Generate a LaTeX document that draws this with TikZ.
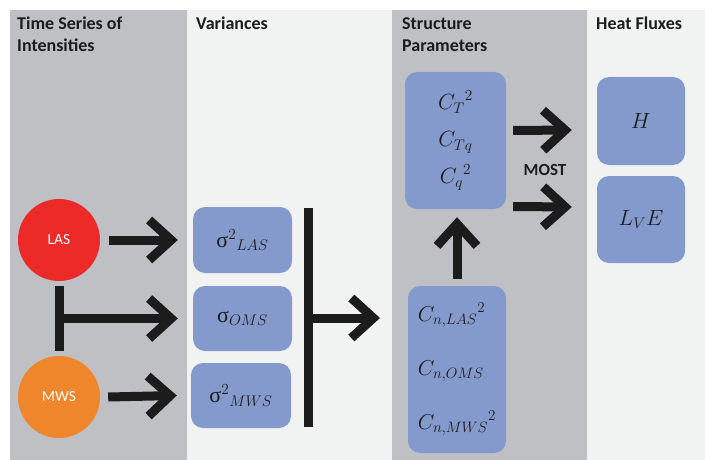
\RequirePackage{fix-cm}
\documentclass[tikz,border=0pt]{standalone}
\usepackage{fontspec}
\setmainfont{Carlito}
\newfontfamily\greekfont{Liberation Serif}
\usetikzlibrary{arrows.meta}
\definecolor{panelgray}{HTML}{BFC0C4}
\definecolor{panellight}{HTML}{F1F2F2}
\definecolor{boxblue}{HTML}{8499CC}
\definecolor{lasred}{HTML}{EC2A28}
\definecolor{mwsorange}{HTML}{F0862B}
\definecolor{inkdark}{HTML}{1C1C1C}
\newcommand\sig{\mbox{\greekfont σ}}

\begin{document}
\begin{tikzpicture}[x=1pt,y=-1pt]
\tikzset{head/.style = {anchor=base west, inner sep=0pt, align=left, text=inkdark,
           font=\bfseries\fontsize{18}{22}\selectfont},
         src/.style = {circle, minimum size=82pt, inner sep=0pt, text=white,
           font=\fontsize{15.5}{18}\selectfont},
         qbox/.style = {fill=boxblue, rounded corners=12pt, inner sep=0pt, text=inkdark,
           font=\fontsize{22}{26}\selectfont},
         arr/.style = {line width=9pt, inkdark, -{Straight Barb[length=22pt, width=40pt]}},
         bar/.style = {line width=9pt, inkdark}}
\useasboundingbox (0,0) rectangle (705,460);
% columns
\fill[panelgray] (10,10) rectangle (187,460);
\fill[panellight] (187,10) rectangle (392,460);
\fill[panelgray] (392,10) rectangle (587,460);
\fill[panellight] (587,10) rectangle (705,460);
\node[head] (thead1) at (17,30) {Time Series of};
\node[head] (thead1b) at (17,52) {Intensities};
\node[head] (thead2) at (196,30) {Variances};
\node[head] (thead3) at (402,30) {Structure};
\node[head] (thead3b) at (402,52) {Parameters};
\node[head] (thead4) at (596,30) {Heat Fluxes};

% sources
\node[src, fill=lasred] (las) at (59,240) {LAS};
\node[src, fill=mwsorange] (mws) at (59,397) {MWS};

% variances
\node[qbox, minimum width=99pt, minimum height=66pt] (vlas) at (242.5,240) {${\sig^2}_{LAS}$};
\node[qbox, minimum width=99pt, minimum height=65pt] (voms) at (242.5,318.5) {$\sig_{OMS}$};
\node[qbox, minimum width=100pt, minimum height=65pt] (vmws) at (241,395.5) {${\sig^2}_{MWS}$};

% structure parameters
\node[qbox, minimum width=101pt, minimum height=137pt, align=center,
  font=\fontsize{22}{37}\selectfont] (ctq) at (455.5,140.5)
  {${C_T}^2$\\$C_{Tq}$\\${C_q}^2$};
\node[qbox, minimum width=98pt, minimum height=167pt, align=left,
  font=\fontsize{21.5}{54}\selectfont] (cn) at (457,369.5)
  {${C_{n,LAS}}^2$\\$C_{n,OMS}$\\${C_{n,MWS}}^2$};

% heat fluxes
\node[qbox, minimum width=88pt, minimum height=88pt] (h) at (641,121) {$H$};
\node[qbox, minimum width=88pt, minimum height=87pt] (lve) at (641,219.5) {$L_V E$};

% connectors
\draw[arr] ([xshift=9pt]las.east) -- ([xshift=-15pt]vlas.west);
\draw[bar] ([yshift=-5pt]las.south) -- coordinate (tee) ([yshift=5pt]mws.north);
\draw[arr] ([xshift=-4.5pt]tee) -- ([xshift=-15pt]tee -| voms.west);
\draw[arr] ([xshift=8pt]mws.east) -- ([xshift=-14pt]vmws.west);

\coordinate (bartop) at (308,208);
\coordinate (barbot) at (308,427);
\coordinate (spin) at (380,318);
\draw[bar] (bartop) -- (barbot);
\draw[arr] (bartop |- spin) -- (spin);

\draw[arr] ([yshift=7pt]cn.north) -- ([yshift=-8pt]cn.north |- ctq.south);
\draw[arr] ([xshift=7pt,yshift=10pt]ctq.east) -- ([xshift=-25pt,yshift=-9pt]h.west);
\draw[arr] ([xshift=7pt,yshift=-66pt]ctq.east) -- ([xshift=-25pt,yshift=12.5pt]lve.west);
\node[inkdark, font=\bfseries\fontsize{17}{20}\selectfont] (most) at (545,170) {MOST};
\end{tikzpicture}
\end{document}
